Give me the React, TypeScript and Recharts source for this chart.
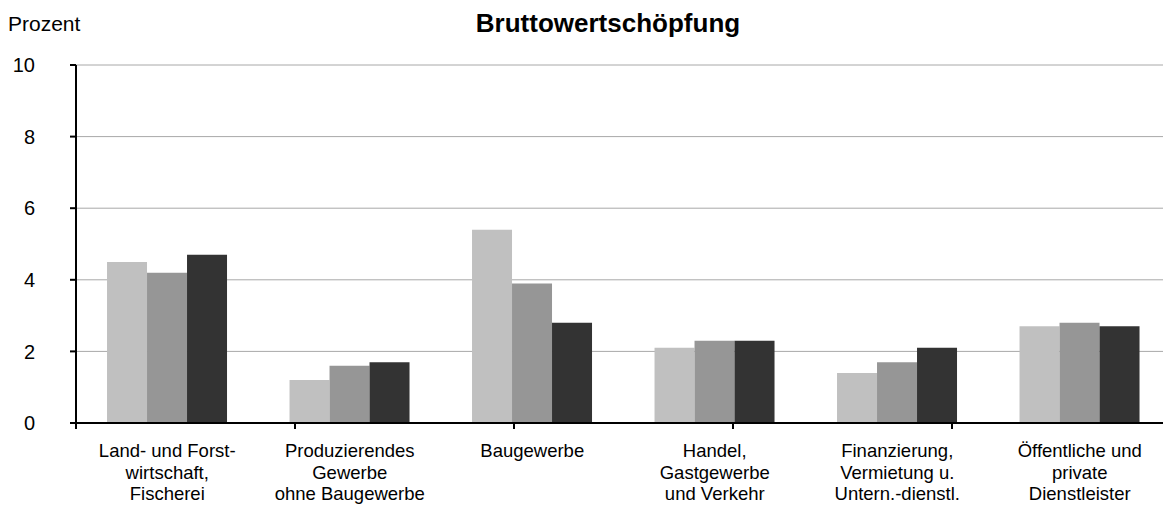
import React from "react";
import { Bar, BarChart, CartesianGrid, XAxis, YAxis } from "recharts";

const categories = [
  "Land- und Forst-\nwirtschaft,\nFischerei",
  "Produzierendes\nGewerbe\nohne Baugewerbe",
  "Baugewerbe",
  "Handel,\nGastgewerbe\nund Verkehr",
  "Finanzierung,\nVermietung u.\nUntern.-dienstl.",
  "Öffentliche und\nprivate\nDienstleister"
];
const seriesA = [4.5, 1.2, 5.4, 2.1, 1.4, 2.7];
const seriesB = [4.2, 1.6, 3.9, 2.3, 1.7, 2.8];
const seriesC = [4.7, 1.7, 2.8, 2.3, 2.1, 2.7];
const yTicks = [0, 2, 4, 6, 8, 10];
const boundaryTicks = [0, 1, 2, 3, 4, 5, 6];

const data = categories.map((name, i) => ({ name, a: seriesA[i], b: seriesB[i], c: seriesC[i] }));

const font = "'Liberation Sans', Arial, sans-serif";

function CategoryTick(props: any) {
  const { x, y, payload } = props;
  const lines = String(payload.value).split("\n");
  return (
    <text x={x} y={y} textAnchor="middle" fontFamily={font} fontSize={18.5} fill="#000">
      {lines.map((line, i) => (
        <tspan key={i} x={x} y={y + 26 + i * 21.5}>
          {line}
        </tspan>
      ))}
    </text>
  );
}

const NoLabel = () => <g />;

export default function App() {
  return (
    <div style={{ position: "absolute", left: 0, top: 0, width: 1163, height: 511, overflow: "hidden", background: "#fff" }}>
      <svg width={1163} height={50} style={{ position: "absolute", left: 0, top: 0 }}>
        <text x={8} y={31} fontFamily={font} fontSize={21} fill="#000">
          Prozent
        </text>
        <text x={608} y={32} textAnchor="middle" fontFamily={font} fontSize={26} fontWeight="bold" fill="#000">
          Bruttowertschöpfung
        </text>
      </svg>
      <BarChart
        width={1171}
        height={511}
        data={data}
        margin={{ top: 65, right: 0, left: 0, bottom: 0 }}
        barCategoryGap="17%"
        barGap={0}
        style={{ position: "absolute", left: 0, top: 0 }}
      >
        <CartesianGrid vertical={false} stroke="#a8a8a8" />
        <XAxis
          xAxisId={0}
          type="number"
          domain={[0, 6]}
          ticks={boundaryTicks}
          interval={0}
          allowDataOverflow
          height={8}
          tick={NoLabel}
          tickSize={6}
          axisLine={{ stroke: "#000", strokeWidth: 2 }}
          tickLine={{ stroke: "#000", strokeWidth: 2 }}
        />
        <XAxis
          xAxisId="cat"
          dataKey="name"
          height={80}
          interval={0}
          axisLine={false}
          tickLine={false}
          tickSize={0}
          tickMargin={0}
          tick={<CategoryTick />}
        />
        <YAxis
          width={76}
          domain={[0, 10]}
          ticks={yTicks}
          interval={0}
          tickSize={6}
          tickMargin={35}
          axisLine={{ stroke: "#000", strokeWidth: 2 }}
          tickLine={{ stroke: "#000", strokeWidth: 2 }}
          tick={{ fill: "#000", fontSize: 20, fontFamily: font }}
        />
        <Bar xAxisId="cat" dataKey="a" fill="#c0c0c0" isAnimationActive={false} />
        <Bar xAxisId="cat" dataKey="b" fill="#969696" isAnimationActive={false} />
        <Bar xAxisId="cat" dataKey="c" fill="#333333" isAnimationActive={false} />
      </BarChart>
    </div>
  );
}
